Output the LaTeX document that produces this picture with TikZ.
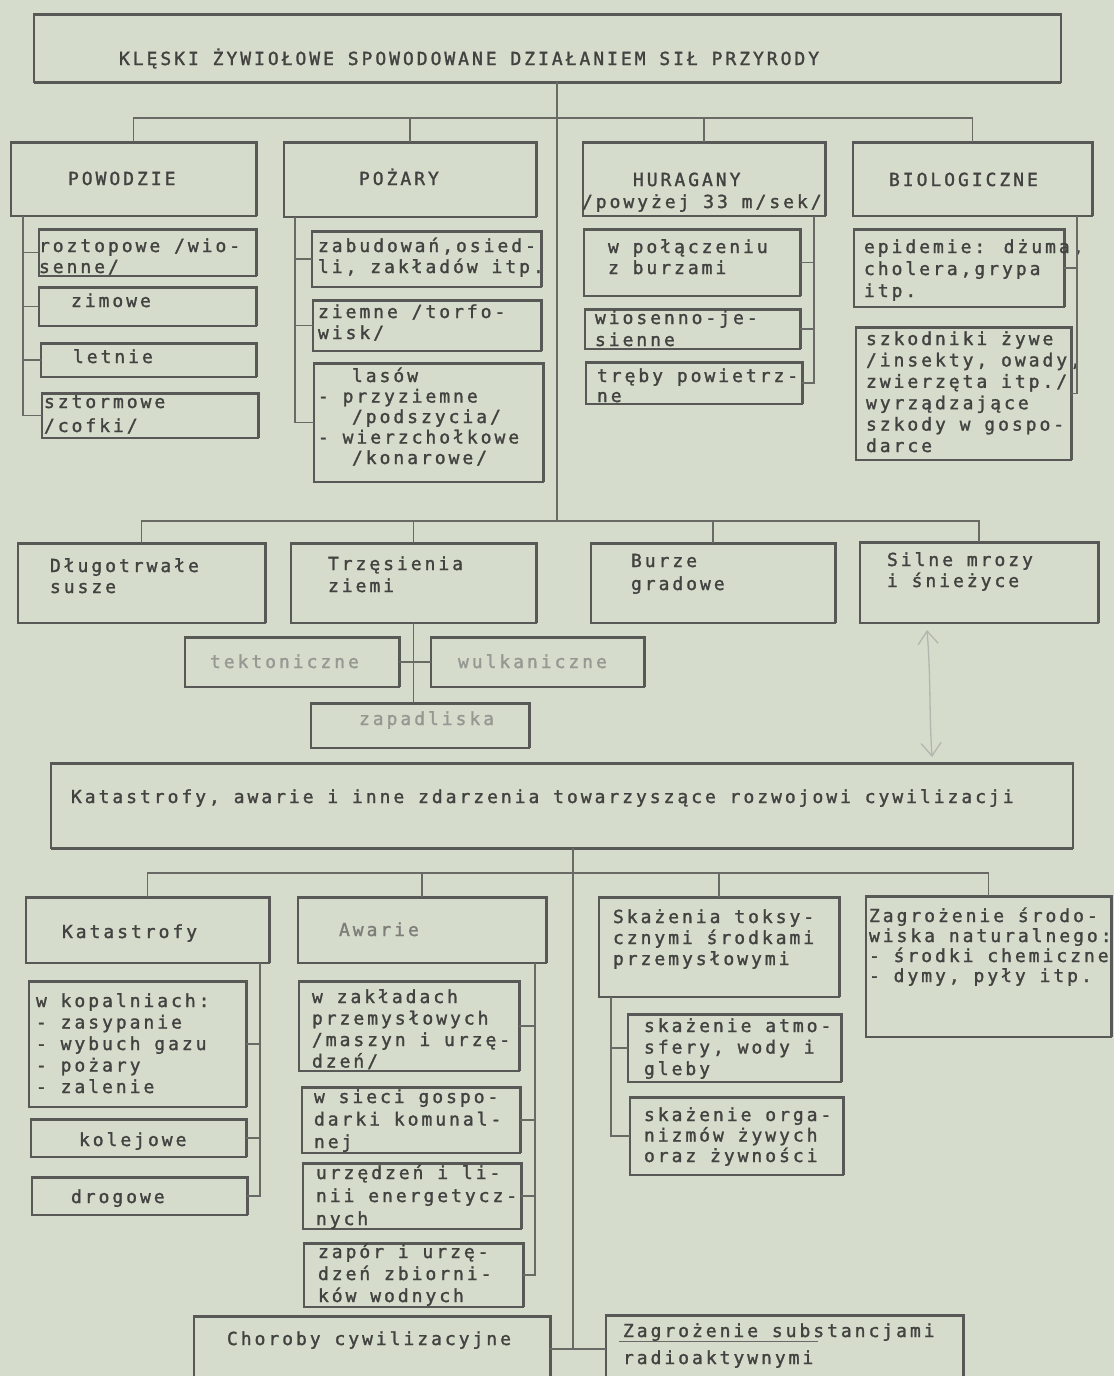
\documentclass[tikz,border=0pt]{standalone}
\usepackage{fontspec}
\usetikzlibrary{fit,arrows.meta,calc}
\newfontfamily\tw[LetterSpace=16.5,FakeBold=1.5]{DejaVu Sans Mono}
\definecolor{bgc}{RGB}{214,220,204}
\definecolor{boxc}{RGB}{88,88,86}
\definecolor{txtc}{RGB}{66,66,64}
\definecolor{fadec}{RGB}{150,152,146}
\definecolor{conc}{RGB}{105,105,102}
\definecolor{pencil}{RGB}{178,182,174}
\newcommand\tl[2][21]{\begin{minipage}[t]{40cm}\raggedright\fontsize{18}{#1}\selectfont\tw #2\end{minipage}}
\tikzset{
  bx/.style={draw=boxc, line width=1.4pt, inner sep=0pt, outer sep=0pt, rectangle},
  thk/.style={draw=boxc, line width=3pt},
  conn/.style={draw=conc, line width=1.2pt},
  tt/.style={anchor=base west, inner sep=0pt, outer sep=0pt, text=txtc},
  tf/.style={tt, text=fadec},
  pencilarrow/.style={draw=pencil, line width=1.3pt, {Straight Barb[length=13pt,width=20pt]}-{Straight Barb[length=13pt,width=20pt]}}
}
\begin{document}
\begin{tikzpicture}[x=1pt,y=-1pt]
\useasboundingbox (0,0) rectangle (1114,1376);
\clip (0,0) rectangle (1114,1376);
\fill[bgc] (0,0) rectangle (1114,1376);

% ---------- boxes ----------
\foreach \n/\a/\b/\c/\d in {
 top/34/14/1061/82,
 pow/11/142/256/216, poz/284/142/536/217, hur/583/142/825/216, bio/853/142/1092/216,
 roz/39/229/256/276, zim/39/287/256/326, let/41/343/256/377, szt/42/393/258/438,
 zab/312/231/541/287, zie/313/300/541/351, las/314/363/543/482,
 wpo/584/229/800/296, wio/585/309/800/349, tra/586/362/802/404,
 epi/854/229/1064/307, szk/856/327/1071/460,
 dlu/18/543/265/623, trz/291/543/536/623, bur/591/543/835/623, sil/860/542/1098/623,
 tek/185/637/399/687, wul/431/637/644/687, zpd/311/703/529/748,
 kat/51/763/1073/848,
 kts/26/897/269/963, awa/298/897/546/963,
 kop/29/981/246/1107, kol/31/1119/246/1157, dro/32/1177/247/1215,
 zak/299/981/519/1071, sie/302/1087/520/1153, urz/303/1163/521/1229, zpr/304/1243/523/1307,
 cho/194/1316/550/1382, zsu/606/1315/963/1383,
 ska/599/897/839/997, atm/628/1014/841/1082, org/630/1097/843/1175,
 zsr/866/896/1111/1037}
 {\node[bx, fit={(\a,\b) (\c,\d)}] (\n) {};}

% thick top and right edges
\foreach \n in {pow,poz,hur,bio,roz,zim,let,szt,zab,zie,las,wpo,wio,tra,epi,szk,
  dlu,trz,bur,sil,tek,wul,zpd,kts,awa,kop,kol,dro,zak,sie,urz,zpr,cho,zsu,ska,atm,org,zsr}
 {\draw[thk] (\n.north west) -- (\n.north east) -- (\n.south east);}
\foreach \n in {top,kat}
 {\draw[thk] (\n.north west) -- (\n.north east);
  \draw[thk] (\n.south west) -- (\n.south east);}

% ---------- texts ----------
\node[tt] (top-t) at (119,65) {\addfontfeature{LetterSpace=18}\tl{KLĘSKI ŻYWIOŁOWE SPOWODOWANE DZIAŁANIEM SIŁ PRZYRODY}};
\node[tt] (pow-t) at (68,185) {\tl{POWODZIE}};
\node[tt] (poz-t) at (359,185) {\tl{POŻARY}};
\node[tt] (hur-t) at (582,186) {\tl[22]{\hspace*{51pt}HURAGANY\\/powyżej 33 m/sek/}};
\node[tt] (bio-t) at (889,186) {\tl{BIOLOGICZNE}};
\node[tt] (roz-t) at (39,252) {\tl{roztopowe /wio-\\senne/}};
\node[tt] (zim-t) at (71,307) {\tl{zimowe}};
\node[tt] (let-t) at (73,363) {\tl{letnie}};
\node[tt] (szt-t) at (44,408) {\tl[24]{sztormowe\\/cofki/}};
\node[tt] (zab-t) at (318,252) {\tl{zabudowań,osied-\\li, zakładów itp.}};
\node[tt] (zie-t) at (318,318) {\tl{ziemne /torfo-\\wisk/}};
\node[tt] (las-t) at (318,382) {\tl[20.5]{\hspace*{34pt}lasów\\- przyziemne\\\hspace*{34pt}/podszycia/\\- wierzchołkowe\\\hspace*{34pt}/konarowe/}};
\node[tt] (wpo-t) at (608,253) {\tl{w połączeniu\\z burzami}};
\node[tt] (wio-t) at (595,324) {\tl[22]{wiosenno-je-\\sienne}};
\node[tt] (tra-t) at (597,382) {\tl[20]{tręby powietrz-\\ne}};
\node[tt] (epi-t) at (864,253) {\tl[22]{epidemie: dżuma,\\cholera,grypa\\itp.}};
\node[tt] (szk-t) at (866,345) {\tl[21.4]{szkodniki żywe\\/insekty, owady,\\zwierzęta itp./\\wyrządzające\\szkody w gospo-\\darce}};

\node[tt] (dlu-t) at (50,572) {\tl{Długotrwałe\\susze}};
\node[tt] (trz-t) at (328,570) {\tl[22]{Trzęsienia\\ziemi}};
\node[tt] (bur-t) at (631,567) {\tl[23]{Burze\\gradowe}};
\node[tt] (sil-t) at (887,566) {\tl{Silne mrozy\\i śnieżyce}};
\node[tf] (tek-t) at (210,668) {\tl{tektoniczne}};
\node[tf] (wul-t) at (458,668) {\tl{wulkaniczne}};
\node[tf] (zpd-t) at (359,725) {\tl{zapadliska}};

\node[tt] (kat-t) at (71,803) {\addfontfeature{LetterSpace=14.5}\tl{Katastrofy, awarie i inne zdarzenia towarzyszące rozwojowi cywilizacji}};

\node[tt] (kts-t) at (62,938) {\tl{Katastrofy}};
\node[tt, text=fadec!70!txtc] (awa-t) at (339,936) {\tl{Awarie}};
\node[tt] (kop-t) at (36,1007) {\tl[21.5]{w kopalniach:\\- zasypanie\\- wybuch gazu\\- pożary\\- zalenie}};
\node[tt] (kol-t) at (79,1146) {\tl{kolejowe}};
\node[tt] (dro-t) at (71,1203) {\tl{drogowe}};
\node[tt] (zak-t) at (312,1003) {\tl[21.5]{w zakładach\\przemysłowych\\/maszyn i urzę-\\dzeń/}};
\node[tt] (sie-t) at (314,1103) {\tl[22.5]{w sieci gospo-\\darki komunal-\\nej}};
\node[tt] (urz-t) at (316,1179) {\tl[23]{urzędzeń i li-\\nii energetycz-\\nych}};
\node[tt] (zpr-t) at (318,1258) {\tl[22]{zapór i urzę-\\dzeń zbiorni-\\ków wodnych}};
\node[tt] (cho-t) at (227,1345) {\tl{Choroby cywilizacyjne}};
\node[tt] (zsu-t) at (623,1337) {\tl[27]{Zagrożenie substancjami\\radioaktywnymi}};
\node[tt] (ska-t) at (613,923) {\tl{Skażenia toksy-\\cznymi środkami\\przemysłowymi}};
\node[tt] (atm-t) at (644,1032) {\tl[21.5]{skażenie atmo-\\sfery, wody i\\gleby}};
\node[tt] (org-t) at (644,1121) {\tl[20.5]{skażenie orga-\\nizmów żywych\\oraz żywności}};
\node[tt] (zsr-t) at (869,922) {\addfontfeature{LetterSpace=13}\tl[20]{Zagrożenie środo-\\wiska naturalnego:\\- środki chemiczne\\- dymy, pyły itp.}};

% ---------- connectors ----------
\coordinate (t1) at (557,0);
\coordinate (t2) at (573,0);
\coordinate (pv) at (23,0);
\coordinate (pzv) at (295,0);
\coordinate (hv) at (814,0);
\coordinate (bv) at (1077,0);
\coordinate (kv) at (260,0);
\coordinate (av) at (535,0);
\coordinate (sv) at (611,0);

% upper tree
\draw[conn] (top.south -| t1) -- ($(t1 |- dlu.north)+(0,-22)$);
\draw[conn] (pow.north) -- ++(0,-24) -| (bio.north);
\draw[conn] (poz.north) -- ++(0,-24);
\draw[conn] (hur.north) -- ++(0,-24);
\draw[conn] (pv |- pow.south) |- (szt.west);
\foreach \c in {roz,zim,let} {\draw[conn] (\c.west) -- (\c.west -| pv);}
\draw[conn] (pzv |- poz.south) |- (las.west);
\foreach \c in {zab,zie} {\draw[conn] (\c.west) -- (\c.west -| pzv);}
\draw[conn] (hv |- hur.south) |- (tra.east);
\foreach \c in {wpo,wio} {\draw[conn] (\c.east) -- (\c.east -| hv);}
\draw[conn] (bv |- bio.south) |- (szk.east);
\draw[conn] (epi.east) -- (epi.east -| bv);

% middle tree
\draw[conn] (dlu.north) -- ++(0,-22) -| (sil.north);
\draw[conn] (trz.north) -- ++(0,-22);
\draw[conn] (bur.north) -- ++(0,-22);
\draw[conn] (trz.south) -- (trz.south |- zpd.north);
\draw[conn] (tek.east) -- (wul.west);

% lower tree
\draw[conn] (kat.south -| t2) -- (t2 |- cho.east);
\draw[conn] (cho.east) -- (zsu.west);
\draw[conn] (kts.north) -- ++(0,-24) -| (zsr.north);
\draw[conn] (awa.north) -- ++(0,-24);
\draw[conn] (ska.north) -- ++(0,-24);
\draw[conn] (kv |- kts.south) |- (dro.east);
\foreach \c in {kop,kol} {\draw[conn] (\c.east) -- (\c.east -| kv);}
\draw[conn] (av |- awa.south) |- (zpr.east);
\foreach \c in {zak,sie,urz} {\draw[conn] (\c.east) -- (\c.east -| av);}
\draw[conn] (sv |- ska.south) |- (org.west);
\draw[conn] (atm.west) -- (atm.west -| sv);

% underline in the bottom right box
\coordinate (ul1) at (619,1341);
\coordinate (ul2) at (818,1341);
\draw[draw=conc, line width=0.8pt] (ul1) -- (ul2);

% pencil double arrow
\coordinate (pa1) at (927,630);
\coordinate (pa2) at (932,757);
\draw[pencilarrow] (pa1) .. controls (931,680) and (929,710) .. (pa2);
\end{tikzpicture}
\end{document}
